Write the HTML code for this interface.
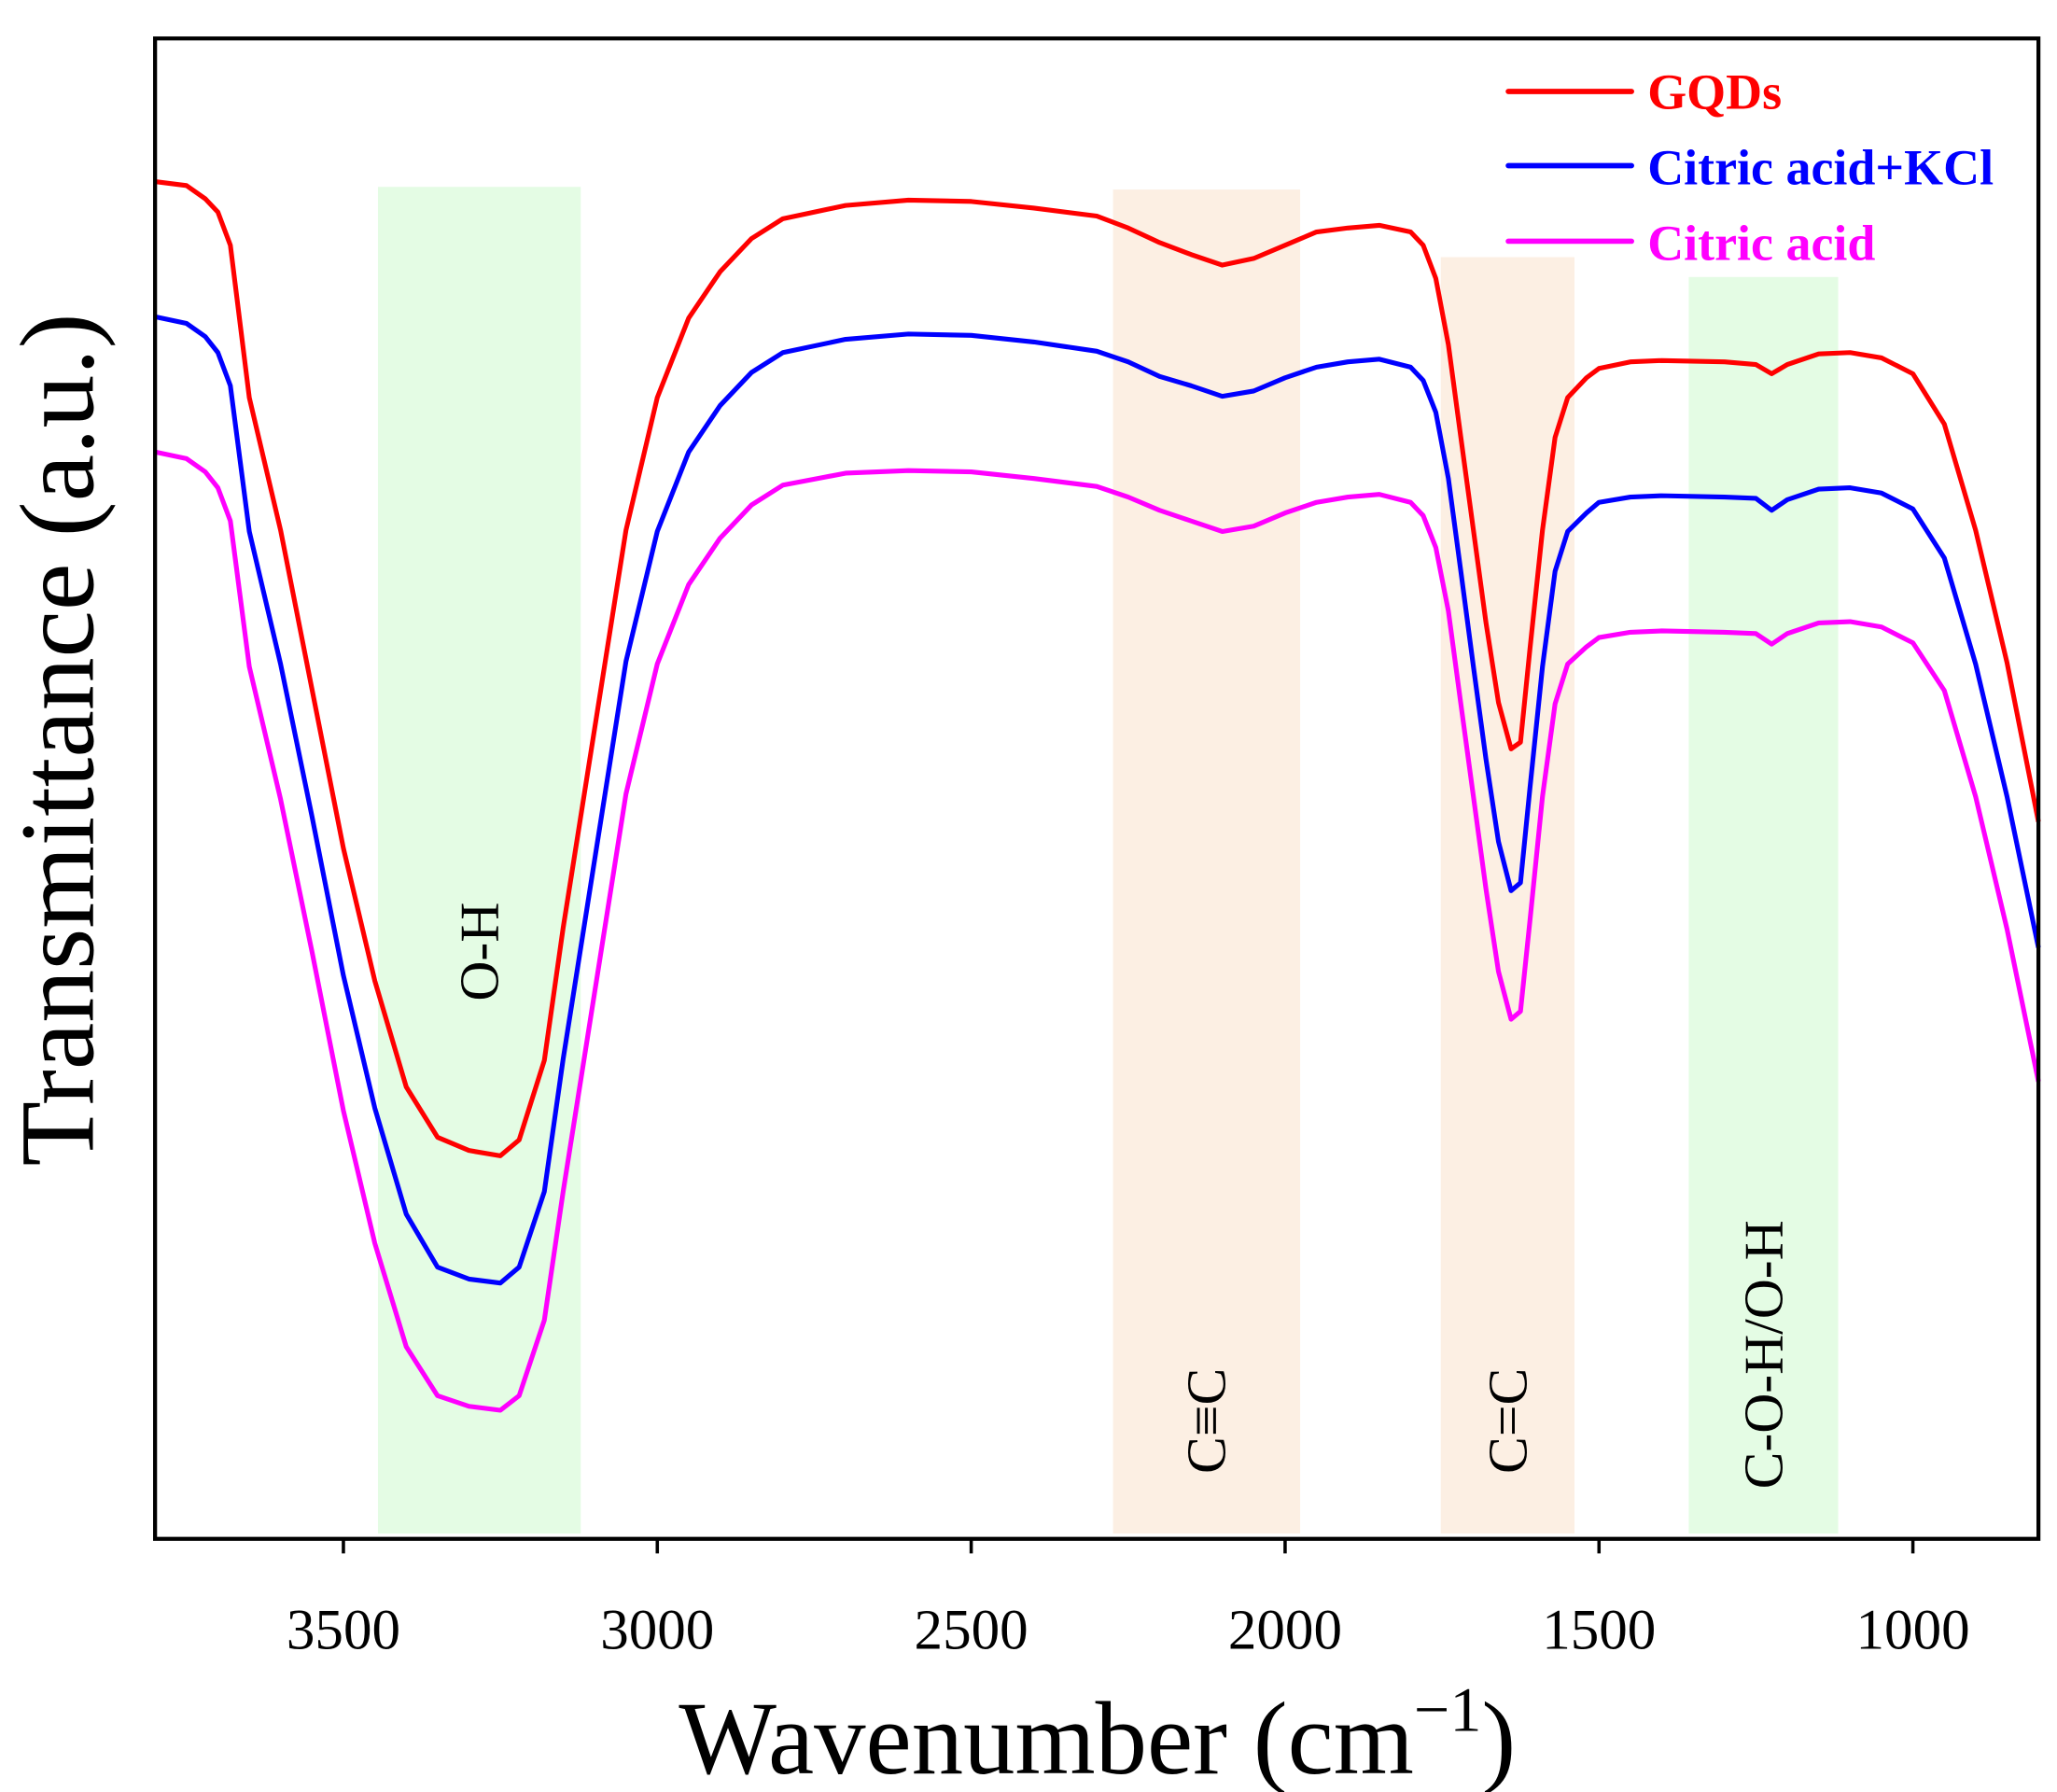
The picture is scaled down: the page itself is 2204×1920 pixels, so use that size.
<!DOCTYPE html>
<html><head><meta charset="utf-8"><style>
html,body{margin:0;padding:0;background:#fff;}
svg{display:block;}
text{font-family:"Liberation Serif",serif;}
</style></head><body>
<svg id="chart" width="2204" height="1920" viewBox="0 0 1552 1352" xmlns="http://www.w3.org/2000/svg">
<g id="bands"></g>
<g id="series"></g>
<rect x="117" y="29" width="1421" height="1132" fill="none" stroke="#000" stroke-width="3"/>
<g id="ticks"></g>
<text x="828" y="1338" font-size="78" text-anchor="middle">Wavenumber (cm<tspan font-size="48" dy="-32">−1</tspan><tspan dy="32">)</tspan></text>
<text transform="translate(70,558) rotate(-90)" font-size="80" text-anchor="middle">Transmittance (a.u.)</text>
<g id="legend">
<line x1="1138" y1="69" x2="1231" y2="69" stroke="#ff0000" stroke-width="4" stroke-linecap="round"/>
<text x="1243" y="82" font-size="38" font-weight="bold" fill="#ff0000">GQDs</text>
<line x1="1138" y1="125" x2="1231" y2="125" stroke="#0000ff" stroke-width="4" stroke-linecap="round"/>
<text x="1243" y="139" font-size="38" font-weight="bold" fill="#0000ff">Citric acid+KCl</text>
<line x1="1138" y1="182" x2="1231" y2="182" stroke="#ff00ff" stroke-width="4" stroke-linecap="round"/>
<text x="1243" y="196" font-size="38" font-weight="bold" fill="#ff00ff">Citric acid</text>
</g>
</svg>
<script>
const wavenumbers=[3800,3750,3720,3700,3680,3650,3600,3550,3500,3450,3400,3350,3300,3250,3220,3180,3150,3100,3050,3000,2950,2900,2850,2800,2700,2600,2500,2400,2300,2250,2200,2150,2100,2050,2000,1950,1900,1850,1800,1780,1760,1740,1720,1700,1680,1660,1640,1625,1610,1590,1570,1550,1520,1500,1450,1400,1300,1250,1225,1200,1150,1100,1050,1000,950,900,850,800];
const gqds=[1024,1021,1011,1001,976,861,761,641,521,421,341,303,293,289,301,361,461,611,761,861,921,956,981,996,1006,1010,1009,1004,998,989,978,969,961,966,976,986,989,991,986,976,951,901,831,761,691,631,596,601,671,761,831,861,876,883,888,889,888,886,879,886,894,895,891,879,841,761,661,541];
const citricKcl=[922,917,907,895,870,760,660,545,425,325,245,205,196,193,205,262,362,512,662,760,820,855,880,895,905,909,908,903,896,888,877,870,862,866,876,884,888,890,884,874,850,800,730,658,588,526,489,495,566,658,730,760,774,782,786,787,786,785,776,784,792,793,789,777,740,660,560,446];
const citric=[820,815,805,793,768,658,558,443,323,223,145,108,100,97,108,165,262,412,562,660,720,755,780,795,804,806,805,800,794,786,776,768,760,764,774,782,786,788,782,772,748,700,630,560,490,428,392,398,466,560,630,660,673,680,684,685,684,683,675,683,691,692,688,676,640,560,460,345];
const xTicks=[3500,3000,2500,2000,1500,1000];
const bandNames=["O-H","C≡C","C=C","C-O-H/O-H"];
const bandFrom=[3445,2274,1752,1357];
const bandTo=[3122,1976,1539,1119];
const bandTop=[1020,1018,967,952];
const bandLabelY=[718,1072,1072,1022];

const X0=117,X1=1538,Y0=1161,Y1=29;
const WMAX=3800,WMIN=800,VMIN=0,VMAX=1132;
function xs(w){return X0+(WMAX-w)/(WMAX-WMIN)*(X1-X0);}
function ys(v){return Y0-(v-VMIN)/(VMAX-VMIN)*(Y0-Y1);}
const NS="http://www.w3.org/2000/svg";
function mk(tag,parent){const e=document.createElementNS(NS,tag);parent.appendChild(e);return e;}

const bands=document.getElementById('bands');
const bandColors=["#e4fce4","#fcefe3","#fcefe3","#e4fce4"];
for(let i=0;i<bandNames.length;i++){
  const r=mk('rect',bands);
  
  
  const xa=xs(bandFrom[i]),xb=xs(bandTo[i]);
  r.setAttribute('x',xa);r.setAttribute('width',xb-xa);
  r.setAttribute('y',ys(bandTop[i]));r.setAttribute('height',Y0-4-ys(bandTop[i]));
  r.setAttribute('fill',bandColors[i]);
  const t=mk('text',bands);
  
  
  const cx=(xa+xb)/2+14;
  t.setAttribute('transform','translate('+cx+','+bandLabelY[i]+') rotate(-90)');
  t.setAttribute('text-anchor','middle');t.setAttribute('font-size','42');
  t.textContent=bandNames[i];
}

const series=document.getElementById('series');
const sets=[[gqds,'#ff0000','gqds-line'],[citricKcl,'#0000ff','citric-kcl-line'],[citric,'#ff00ff','citric-line']];
for(const [vals,col,name] of sets){
  const p=mk('path',series);
  
  
  let d='';
  for(let i=0;i<wavenumbers.length;i++){d+=(i?'L':'M')+xs(wavenumbers[i]).toFixed(1)+','+ys(vals[i]).toFixed(1);}
  p.setAttribute('d',d);p.setAttribute('fill','none');p.setAttribute('stroke',col);
  p.setAttribute('stroke-width','3.6');p.setAttribute('stroke-linejoin','round');
}

const ticks=document.getElementById('ticks');
for(const w of xTicks){
  const l=mk('line',ticks);
  
  
  l.setAttribute('x1',xs(w));l.setAttribute('x2',xs(w));l.setAttribute('y1',Y0);l.setAttribute('y2',Y0+11);
  l.setAttribute('stroke','#000');l.setAttribute('stroke-width','2.5');
  const t=mk('text',ticks);
  
  
  t.setAttribute('x',xs(w));t.setAttribute('y',1244);t.setAttribute('text-anchor','middle');t.setAttribute('font-size','43');
  t.textContent=w;
}
</script>
</body></html>
